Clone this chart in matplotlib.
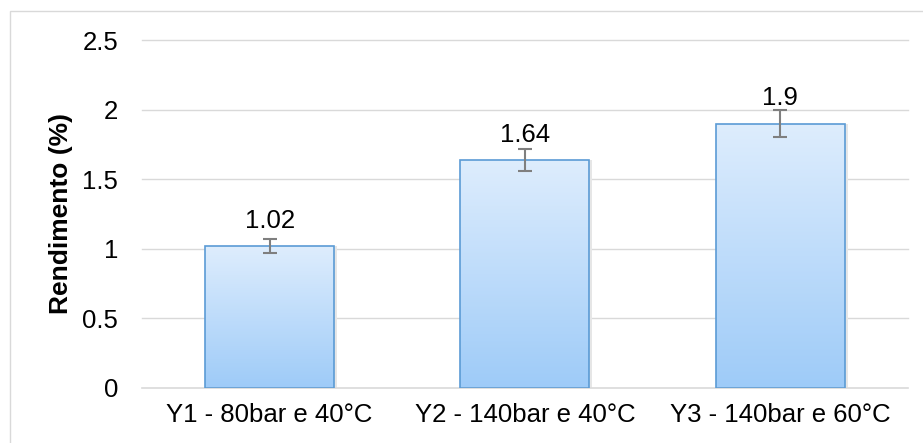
import numpy as np
import matplotlib.pyplot as plt
from matplotlib.colors import LinearSegmentedColormap
from matplotlib.patches import Rectangle

plt.rcParams['font.family'] = ['Liberation Sans', 'DejaVu Sans']

# Data
categories = ["Y1 - 80bar e 40°C", "Y2 - 140bar e 40°C", "Y3 - 140bar e 60°C"]
values = [1.02, 1.64, 1.9]
errors = [0.05, 0.08, 0.095]
yticks = [0, 0.5, 1, 1.5, 2, 2.5]

fs = 18.5

fig = plt.figure(figsize=(9.23, 4.43), dpi=100)
ax = fig.add_axes([0.1538, 0.1242, 0.8299, 0.7855])

x = np.arange(len(categories))
bars = ax.bar(x, values, width=0.505, color='none', edgecolor='#5b9bd5',
              linewidth=1.2, zorder=3)

# gradient fill inside each bar
cmap = LinearSegmentedColormap.from_list("grad", ["#9ecbf8", "#deedfd"])
grad = np.linspace(0, 1, 256).reshape(-1, 1)
for b in bars:
    x0, w, h = b.get_x(), b.get_width(), b.get_height()
    im = ax.imshow(grad, cmap=cmap, origin='lower', aspect='auto',
                   extent=[x0, x0 + w, 0, h], zorder=2)
    im.set_clip_path(b)
    # soft shadow on the right
    ax.add_patch(Rectangle((x0 + w, 0), 0.012, h, color='#e6e6e6', lw=0, zorder=1))

ax.errorbar(x, values, yerr=errors, fmt='none', ecolor='#7f7f7f',
            elinewidth=1.5, capsize=5, capthick=1.5, zorder=4)

for xi, v in zip(x, values):
    ax.annotate(f"{v:g}", (xi, v), xytext=(0, 9.5), textcoords='offset points',
                ha='center', va='bottom', fontsize=fs, color='#000000', zorder=5)

ax.set_xlim(-0.5, 2.5)
ax.set_ylim(0, 2.5)
ax.set_yticks(yticks)
ax.set_yticklabels([f"{t:g}" for t in yticks])
ax.set_xticks(x)
ax.set_xticklabels(categories)
ax.tick_params(axis='y', length=0, pad=17, labelsize=fs)
ax.tick_params(axis='x', length=0, pad=11, labelsize=fs)

for t in yticks[1:]:
    ax.axhline(t, color='#d9d9d9', linewidth=1, zorder=0, clip_on=False)

for s in ['top', 'right', 'left']:
    ax.spines[s].set_visible(False)
ax.spines['bottom'].set_color('#d9d9d9')
ax.spines['bottom'].set_linewidth(1.2)

ax.set_ylabel("Rendimento (%)", fontsize=19, fontweight='bold', labelpad=7)

# outer chart border
fig.patches.append(Rectangle((10 / 923, -0.05), 1.2, (443 - 11) / 443 + 0.05,
                             transform=fig.transFigure, fill=False,
                             edgecolor='#d9d9d9', linewidth=1))

fig.savefig("out.png", dpi=100)
